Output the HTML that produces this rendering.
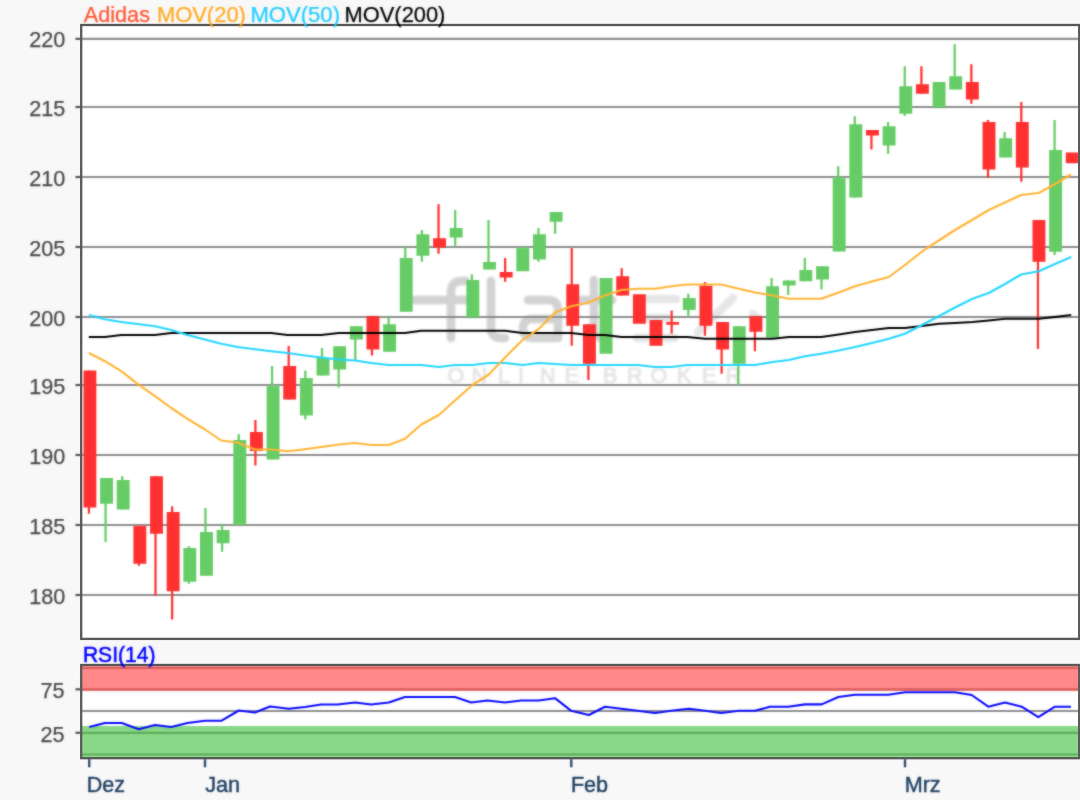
<!DOCTYPE html>
<html><head><meta charset="utf-8"><title>Adidas Chart</title>
<style>
html,body{margin:0;padding:0;background:#f8f8f8;}
body{width:1080px;height:800px;overflow:hidden;font-family:"Liberation Sans",sans-serif;}
svg{display:block;}
text{font-family:"Liberation Sans",sans-serif;font-size:21.6px;}
.t text{stroke-width:0.25px;paint-order:stroke;}
</style></head><body>
<svg width="1080" height="800" viewBox="0 0 1080 800">
<defs>
<filter id="b" x="-2%" y="-2%" width="104%" height="104%" color-interpolation-filters="sRGB"><feGaussianBlur stdDeviation="0.9"/></filter>
<filter id="s" x="-2%" y="-2%" width="104%" height="104%" color-interpolation-filters="sRGB"><feGaussianBlur stdDeviation="0.9" result="g"/><feComposite in="SourceGraphic" in2="g" operator="arithmetic" k1="0" k2="0.55" k3="0.45" k4="0"/></filter>
<filter id="bt" x="-2%" y="-2%" width="104%" height="104%" color-interpolation-filters="sRGB"><feGaussianBlur stdDeviation="0.9" result="g"/><feComposite in="SourceGraphic" in2="g" operator="arithmetic" k1="0" k2="0.5" k3="0.5" k4="0"/></filter>
<clipPath id="cp"><rect x="81.2" y="25" width="998" height="613.8"/></clipPath>
</defs>
<rect x="0" y="0" width="1080" height="800" fill="#f8f8f8"/>
<g filter="url(#b)">
<!-- main plot -->
<rect x="81.2" y="25" width="998" height="613.8" fill="#ffffff"/>

<g id="wm" clip-path="url(#cp)">
<g fill="none" stroke="#d2d2d2" stroke-width="8.5" stroke-linecap="round" stroke-linejoin="round">
<path d="M414,300 H470"/>
<path d="M451,338 V292 Q451,281 462,281 H466"/>
<path d="M491,281 V328 Q491,338 501,338 H505"/>
<path d="M528,300 H548 Q558,300 558,310 V338 H533 Q523,338 523,328 Q523,319 533,319 H556"/>
<path d="M594,280 V328 Q594,338 603,338"/>
<path d="M580,300 H612"/>
</g>
<g fill="none" stroke="#e6e6e6" stroke-width="8.5" stroke-linecap="round">
<path d="M648,299 H676"/><path d="M644,318 H668"/><path d="M637,338 H674"/>
<path d="M698,332 L733,298"/><path d="M753,314 L757,318"/>
</g>
<text font-size="15.8" fill="#e2e2e2" stroke="#e2e2e2" stroke-width="0.6" y="383.2" x="447.5 471.5 498 518 540 564.5 603 627 650.5 677 702 725.5">ONLINEBROKER</text>
</g>

</g><g filter="url(#s)">
<g stroke="#8e8e8e" stroke-width="2.2">
<line x1="81" y1="38.85" x2="1079" y2="38.85"/>
<line x1="81" y1="107" x2="1079" y2="107"/>
<line x1="81" y1="177" x2="1079" y2="177"/>
<line x1="81" y1="247" x2="1079" y2="247"/>
<line x1="81" y1="317" x2="1079" y2="317"/>
<line x1="81" y1="385" x2="1079" y2="385"/>
<line x1="81" y1="455" x2="1079" y2="455"/>
<line x1="81" y1="525" x2="1079" y2="525"/>
<line x1="81" y1="595" x2="1079" y2="595"/>
</g>
<g stroke="#555555" stroke-width="2.2">
<line x1="75.5" y1="38.85" x2="81" y2="38.85"/>
<line x1="75.5" y1="107" x2="81" y2="107"/>
<line x1="75.5" y1="177" x2="81" y2="177"/>
<line x1="75.5" y1="247" x2="81" y2="247"/>
<line x1="75.5" y1="317" x2="81" y2="317"/>
<line x1="75.5" y1="385" x2="81" y2="385"/>
<line x1="75.5" y1="455" x2="81" y2="455"/>
<line x1="75.5" y1="525" x2="81" y2="525"/>
<line x1="75.5" y1="595" x2="81" y2="595"/>
</g>
</g><g filter="url(#s)">
<g clip-path="url(#cp)">
<rect x="87.78" y="370.5" width="2.25" height="143.25" fill="#ff3030"/>
<rect x="83.45" y="370.5" width="12.9" height="137.00" fill="#ff3030"/>
<rect x="104.43" y="478" width="2.25" height="64.00" fill="#66cc66"/>
<rect x="100.10" y="478" width="12.9" height="25.75" fill="#66cc66"/>
<rect x="121.08" y="476.25" width="2.25" height="33.25" fill="#66cc66"/>
<rect x="116.75" y="480" width="12.9" height="29.50" fill="#66cc66"/>
<rect x="137.72" y="525.75" width="2.25" height="40.00" fill="#ff3030"/>
<rect x="133.40" y="525.75" width="12.9" height="38.00" fill="#ff3030"/>
<rect x="154.38" y="476.25" width="2.25" height="119.25" fill="#ff3030"/>
<rect x="150.05" y="476.25" width="12.9" height="57.50" fill="#ff3030"/>
<rect x="171.03" y="506.25" width="2.25" height="113.25" fill="#ff3030"/>
<rect x="166.70" y="512" width="12.9" height="79.25" fill="#ff3030"/>
<rect x="187.68" y="546.25" width="2.25" height="37.50" fill="#66cc66"/>
<rect x="183.35" y="548" width="12.9" height="33.75" fill="#66cc66"/>
<rect x="204.32" y="508" width="2.25" height="67.75" fill="#66cc66"/>
<rect x="200.00" y="532" width="12.9" height="43.75" fill="#66cc66"/>
<rect x="220.97" y="524.5" width="2.25" height="27.25" fill="#66cc66"/>
<rect x="216.65" y="530" width="12.9" height="13.25" fill="#66cc66"/>
<rect x="237.62" y="434" width="2.25" height="91.00" fill="#66cc66"/>
<rect x="233.30" y="440" width="12.9" height="85.00" fill="#66cc66"/>
<rect x="254.28" y="420" width="2.25" height="45.50" fill="#ff3030"/>
<rect x="249.95" y="432" width="12.9" height="19.00" fill="#ff3030"/>
<rect x="270.92" y="366" width="2.25" height="93.50" fill="#66cc66"/>
<rect x="266.60" y="385.75" width="12.9" height="73.75" fill="#66cc66"/>
<rect x="287.57" y="346" width="2.25" height="53.50" fill="#ff3030"/>
<rect x="283.25" y="366" width="12.9" height="33.50" fill="#ff3030"/>
<rect x="304.23" y="370.5" width="2.25" height="49.00" fill="#66cc66"/>
<rect x="299.90" y="378" width="12.9" height="37.50" fill="#66cc66"/>
<rect x="320.88" y="348" width="2.25" height="27.50" fill="#66cc66"/>
<rect x="316.55" y="358" width="12.9" height="17.50" fill="#66cc66"/>
<rect x="337.52" y="346.25" width="2.25" height="41.25" fill="#66cc66"/>
<rect x="333.20" y="346.25" width="12.9" height="23.25" fill="#66cc66"/>
<rect x="354.17" y="326.25" width="2.25" height="34.25" fill="#66cc66"/>
<rect x="349.85" y="326.25" width="12.9" height="13.25" fill="#66cc66"/>
<rect x="370.82" y="316.25" width="2.25" height="39.25" fill="#ff3030"/>
<rect x="366.50" y="316.25" width="12.9" height="33.25" fill="#ff3030"/>
<rect x="387.48" y="316.25" width="2.25" height="35.50" fill="#66cc66"/>
<rect x="383.15" y="324.25" width="12.9" height="27.50" fill="#66cc66"/>
<rect x="404.12" y="246.25" width="2.25" height="65.50" fill="#66cc66"/>
<rect x="399.80" y="258" width="12.9" height="53.75" fill="#66cc66"/>
<rect x="420.77" y="230" width="2.25" height="31.75" fill="#66cc66"/>
<rect x="416.45" y="234.25" width="12.9" height="21.50" fill="#66cc66"/>
<rect x="437.42" y="204.25" width="2.25" height="49.50" fill="#ff3030"/>
<rect x="433.10" y="238.25" width="12.9" height="9.25" fill="#ff3030"/>
<rect x="454.07" y="210" width="2.25" height="36.25" fill="#66cc66"/>
<rect x="449.75" y="228" width="12.9" height="9.50" fill="#66cc66"/>
<rect x="470.73" y="274.25" width="2.25" height="43.25" fill="#66cc66"/>
<rect x="466.40" y="280" width="12.9" height="37.50" fill="#66cc66"/>
<rect x="487.38" y="220" width="2.25" height="49.50" fill="#66cc66"/>
<rect x="483.05" y="262" width="12.9" height="7.50" fill="#66cc66"/>
<rect x="504.02" y="258" width="2.25" height="23.75" fill="#ff3030"/>
<rect x="499.70" y="272" width="12.9" height="5.50" fill="#ff3030"/>
<rect x="516.35" y="247.5" width="12.9" height="23.75" fill="#66cc66"/>
<rect x="537.32" y="228" width="2.25" height="33.75" fill="#66cc66"/>
<rect x="533.00" y="234.25" width="12.9" height="25.25" fill="#66cc66"/>
<rect x="553.97" y="212" width="2.25" height="21.75" fill="#66cc66"/>
<rect x="549.65" y="212" width="12.9" height="9.75" fill="#66cc66"/>
<rect x="570.62" y="248" width="2.25" height="97.75" fill="#ff3030"/>
<rect x="566.30" y="284.25" width="12.9" height="41.50" fill="#ff3030"/>
<rect x="587.27" y="324.25" width="2.25" height="55.75" fill="#ff3030"/>
<rect x="582.95" y="324.25" width="12.9" height="39.50" fill="#ff3030"/>
<rect x="599.60" y="278" width="12.9" height="75.75" fill="#66cc66"/>
<rect x="620.57" y="268.25" width="2.25" height="27.25" fill="#ff3030"/>
<rect x="616.25" y="276.25" width="12.9" height="19.25" fill="#ff3030"/>
<rect x="632.90" y="294.25" width="12.9" height="29.50" fill="#ff3030"/>
<rect x="649.55" y="320" width="12.9" height="25.75" fill="#ff3030"/>
<rect x="670.52" y="310.5" width="2.25" height="23.25" fill="#ff3030"/>
<rect x="666.20" y="322.0" width="12.9" height="2.70" fill="#ff3030"/>
<rect x="687.17" y="293.75" width="2.25" height="22.50" fill="#66cc66"/>
<rect x="682.85" y="298" width="12.9" height="12.00" fill="#66cc66"/>
<rect x="703.82" y="282" width="2.25" height="53.75" fill="#ff3030"/>
<rect x="699.50" y="285.75" width="12.9" height="40.00" fill="#ff3030"/>
<rect x="720.47" y="322" width="2.25" height="51.75" fill="#ff3030"/>
<rect x="716.15" y="322" width="12.9" height="27.50" fill="#ff3030"/>
<rect x="737.12" y="326.25" width="2.25" height="58.75" fill="#66cc66"/>
<rect x="732.80" y="326.25" width="12.9" height="37.50" fill="#66cc66"/>
<rect x="753.77" y="316.25" width="2.25" height="35.00" fill="#ff3030"/>
<rect x="749.45" y="316.25" width="12.9" height="15.50" fill="#ff3030"/>
<rect x="770.42" y="278" width="2.25" height="59.50" fill="#66cc66"/>
<rect x="766.10" y="286.25" width="12.9" height="51.25" fill="#66cc66"/>
<rect x="787.07" y="280.5" width="2.25" height="14.50" fill="#66cc66"/>
<rect x="782.75" y="280.5" width="12.9" height="5.00" fill="#66cc66"/>
<rect x="803.72" y="258" width="2.25" height="23.25" fill="#66cc66"/>
<rect x="799.40" y="270" width="12.9" height="11.25" fill="#66cc66"/>
<rect x="820.37" y="266.25" width="2.25" height="23.25" fill="#66cc66"/>
<rect x="816.05" y="266.25" width="12.9" height="13.25" fill="#66cc66"/>
<rect x="837.02" y="166.25" width="2.25" height="85.25" fill="#66cc66"/>
<rect x="832.70" y="177.5" width="12.9" height="74.00" fill="#66cc66"/>
<rect x="853.67" y="116.25" width="2.25" height="81.25" fill="#66cc66"/>
<rect x="849.35" y="124.25" width="12.9" height="73.25" fill="#66cc66"/>
<rect x="870.32" y="130" width="2.25" height="19.50" fill="#ff3030"/>
<rect x="866.00" y="130" width="12.9" height="5.50" fill="#ff3030"/>
<rect x="886.97" y="122" width="2.25" height="31.75" fill="#66cc66"/>
<rect x="882.65" y="126.25" width="12.9" height="19.25" fill="#66cc66"/>
<rect x="903.62" y="66.25" width="2.25" height="49.50" fill="#66cc66"/>
<rect x="899.30" y="86.25" width="12.9" height="27.50" fill="#66cc66"/>
<rect x="920.27" y="66.25" width="2.25" height="27.50" fill="#ff3030"/>
<rect x="915.95" y="84.25" width="12.9" height="9.50" fill="#ff3030"/>
<rect x="932.60" y="82" width="12.9" height="25.50" fill="#66cc66"/>
<rect x="953.57" y="44.25" width="2.25" height="45.25" fill="#66cc66"/>
<rect x="949.25" y="76.25" width="12.9" height="13.25" fill="#66cc66"/>
<rect x="970.22" y="64.25" width="2.25" height="39.50" fill="#ff3030"/>
<rect x="965.90" y="82" width="12.9" height="17.50" fill="#ff3030"/>
<rect x="986.87" y="120" width="2.25" height="57.50" fill="#ff3030"/>
<rect x="982.55" y="122" width="12.9" height="47.50" fill="#ff3030"/>
<rect x="1003.52" y="132" width="2.25" height="25.50" fill="#66cc66"/>
<rect x="999.20" y="138.25" width="12.9" height="19.25" fill="#66cc66"/>
<rect x="1020.17" y="102" width="2.25" height="79.75" fill="#ff3030"/>
<rect x="1015.85" y="122" width="12.9" height="45.50" fill="#ff3030"/>
<rect x="1036.83" y="220" width="2.25" height="129.00" fill="#ff3030"/>
<rect x="1032.50" y="220" width="12.9" height="41.75" fill="#ff3030"/>
<rect x="1053.47" y="120" width="2.25" height="135.00" fill="#66cc66"/>
<rect x="1049.15" y="150" width="12.9" height="101.75" fill="#66cc66"/>
<rect x="1065.80" y="152.5" width="12.9" height="10.75" fill="#ff3030"/>
</g>
<polyline points="88.8,337.0 105.0,337.0 121.2,335.0 155.0,335.0 171.2,333.0 271.2,333.0 287.5,335.0 321.2,335.0 338.8,333.0 405.0,333.0 421.2,330.8 505.0,330.8 522.5,333.0 571.2,333.0 588.8,335.0 605.0,335.0 621.2,337.0 687.5,337.0 705.0,338.8 772.5,338.8 788.8,337.0 821.2,337.0 838.8,334.5 855.0,332.0 872.0,330.0 888.8,328.0 905.0,328.0 922.0,326.0 938.8,323.8 955.0,323.0 972.5,322.0 988.8,320.5 1005.0,318.8 1038.8,318.8 1055.0,317.0 1071.2,315.0" fill="none" stroke="#000000" stroke-width="2.1" stroke-linejoin="round"/>
<polyline points="88.8,315.0 105.0,319.2 121.2,322.0 137.5,324.0 155.0,326.2 171.2,330.0 187.5,335.0 205.0,339.5 221.2,343.8 237.5,347.0 255.0,349.2 271.2,351.2 287.5,353.0 305.0,355.5 321.2,357.5 338.8,359.5 355.0,360.5 371.2,363.0 388.8,365.0 405.0,365.0 421.2,365.0 438.8,367.0 455.0,365.0 472.5,365.0 488.8,363.0 505.0,363.0 522.5,365.0 538.8,363.0 555.0,364.0 571.2,365.0 588.8,365.0 605.0,365.0 621.2,365.0 637.5,365.0 655.0,367.0 671.2,367.0 687.5,365.0 705.0,365.0 721.2,365.0 738.8,365.0 755.0,365.0 772.5,362.0 788.8,360.0 805.0,356.2 821.2,353.8 838.8,350.5 855.0,347.0 872.0,343.0 888.8,338.8 905.0,333.8 922.0,325.0 938.8,316.2 955.0,307.5 972.5,298.8 988.8,293.0 1005.0,284.0 1021.2,274.5 1038.8,271.2 1055.0,264.0 1071.2,257.0" fill="none" stroke="#22d6ff" stroke-width="2.1" stroke-linejoin="round"/>
<polyline points="88.8,353.0 105.0,361.2 121.2,371.2 137.5,383.8 155.0,396.2 171.2,408.0 187.5,418.8 205.0,429.5 221.2,440.5 237.5,442.5 255.0,449.5 271.2,449.5 287.5,451.2 305.0,449.2 321.2,447.0 338.8,444.5 355.0,443.0 371.2,445.0 388.8,445.0 405.0,438.8 421.2,424.5 438.8,415.0 455.0,400.5 472.5,385.0 488.8,374.5 505.0,357.5 522.5,340.0 538.8,328.8 555.0,312.5 571.2,306.2 588.8,302.5 605.0,295.5 621.2,290.0 637.5,288.8 655.0,288.8 671.2,286.2 687.5,284.5 705.0,284.5 721.2,284.5 738.8,288.8 755.0,292.5 772.5,295.5 788.8,298.8 805.0,298.8 821.2,298.8 838.8,292.5 855.0,286.2 872.0,281.5 888.8,277.0 905.0,265.0 922.5,251.2 938.8,240.5 955.0,230.0 972.0,220.0 988.8,210.0 1005.0,202.5 1021.0,195.0 1038.8,193.0 1055.0,184.0 1071.0,174.5" fill="none" stroke="#ffb433" stroke-width="2.1" stroke-linejoin="round"/>
</g><g filter="url(#s)">
</g><g><rect x="81.2" y="25" width="998" height="613.9" fill="none" stroke="#595959" stroke-width="2.3"/></g><g filter="url(#s)">
<!-- RSI -->
<rect x="81.2" y="665" width="998" height="93" fill="#ffffff"/>
<line x1="81" y1="711" x2="1079" y2="711" stroke="#8e8e8e" stroke-width="2.2"/>
<rect x="81.2" y="665" width="998" height="26" fill="#ff8888"/>
<line x1="81" y1="668" x2="1079" y2="668" stroke="#d85c5c" stroke-width="2"/>
<line x1="81" y1="689.3" x2="1079" y2="689.3" stroke="#d85c5c" stroke-width="2.2"/>
<rect x="81.2" y="726" width="998" height="32" fill="#88d888"/>
<line x1="81" y1="732.8" x2="1079" y2="732.8" stroke="#5cac5c" stroke-width="2.2"/>
<line x1="81" y1="754.5" x2="1079" y2="754.5" stroke="#5cac5c" stroke-width="2"/>
<line x1="75.5" y1="689.3" x2="81" y2="689.3" stroke="#555555" stroke-width="2.2"/>
<line x1="75.5" y1="732.8" x2="81" y2="732.8" stroke="#555555" stroke-width="2.2"/>

<polyline points="89.2,727.0 105.0,723.0 121.8,723.0 138.8,729.2 155.0,725.0 171.2,727.0 187.5,723.0 205.0,720.8 221.2,720.8 238.8,710.5 255.0,712.5 270.0,706.5 288.8,708.8 305.0,707.0 321.2,704.5 337.5,704.5 355.0,702.5 371.2,704.5 388.8,702.5 405.0,697.0 455.0,697.0 471.2,702.5 487.5,700.5 505.0,702.5 521.2,700.5 538.8,700.5 555.0,698.2 571.2,710.8 588.8,715.0 605.0,706.8 621.2,708.8 637.5,710.8 655.0,713.0 671.2,710.8 688.8,708.8 705.0,710.8 721.2,713.0 738.8,710.8 755.0,710.8 770.0,706.8 788.3,706.7 805.0,704.4 821.7,704.4 838.3,697.0 855.0,694.7 888.3,694.7 905.0,692.2 955.0,692.2 971.7,695.0 988.3,706.7 1005.0,702.5 1021.7,706.7 1038.3,717.2 1055.0,706.7 1071.0,706.7" fill="none" stroke="#0808ff" stroke-width="2.1" stroke-linejoin="round"/>
</g><g><rect x="81.2" y="665" width="998" height="93.2" fill="none" stroke="#595959" stroke-width="2.3"/></g><g filter="url(#s)">
<g stroke="#2f4f6f" stroke-width="2.4">
<line x1="89.25" y1="759" x2="89.25" y2="767.3"/>
<line x1="205" y1="759" x2="205" y2="767.3"/>
<line x1="571.25" y1="759" x2="571.25" y2="767.3"/>
<line x1="905" y1="759" x2="905" y2="767.3"/>
</g>
</g>
<g filter="url(#bt)" class="t">
<text x="83.75" y="22" fill="#ff5533" stroke="#ff5533" textLength="66.25" lengthAdjust="spacingAndGlyphs">Adidas</text>
<text x="156.9" y="22" fill="#ffaa22" stroke="#ffaa22" textLength="89" lengthAdjust="spacingAndGlyphs">MOV(20)</text>
<text x="250.4" y="22" fill="#22ccff" stroke="#22ccff" textLength="89.6" lengthAdjust="spacingAndGlyphs">MOV(50)</text>
<text x="344.6" y="22" fill="#000000" stroke="#000000" textLength="100.8" lengthAdjust="spacingAndGlyphs">MOV(200)</text>
<text x="65.3" y="47.45" fill="#484848" stroke="#484848" text-anchor="end">220</text>
<text x="65.3" y="115.60" fill="#484848" stroke="#484848" text-anchor="end">215</text>
<text x="65.3" y="185.60" fill="#484848" stroke="#484848" text-anchor="end">210</text>
<text x="65.3" y="255.60" fill="#484848" stroke="#484848" text-anchor="end">205</text>
<text x="65.3" y="325.60" fill="#484848" stroke="#484848" text-anchor="end">200</text>
<text x="65.3" y="393.60" fill="#484848" stroke="#484848" text-anchor="end">195</text>
<text x="65.3" y="463.60" fill="#484848" stroke="#484848" text-anchor="end">190</text>
<text x="65.3" y="533.60" fill="#484848" stroke="#484848" text-anchor="end">185</text>
<text x="65.3" y="603.60" fill="#484848" stroke="#484848" text-anchor="end">180</text>
<text x="64.6" y="697.5" fill="#484848" stroke="#484848" text-anchor="end">75</text>
<text x="64.6" y="742" fill="#484848" stroke="#484848" text-anchor="end">25</text>
<text x="82.9" y="661.9" fill="#0000ff" stroke="#0000ff" textLength="72.6" lengthAdjust="spacingAndGlyphs" style="stroke-width:0.55px;font-size:22.2px">RSI(14)</text>
<text x="86.7" y="791.7" fill="#1f4062" stroke="#1f4062" style="stroke-width:0.45px">Dez</text>
<text x="205.2" y="791.7" fill="#1f4062" stroke="#1f4062" style="stroke-width:0.45px">Jan</text>
<text x="570.9" y="791.7" fill="#1f4062" stroke="#1f4062" style="stroke-width:0.45px">Feb</text>
<text x="904.7" y="791.7" fill="#1f4062" stroke="#1f4062" style="stroke-width:0.45px">Mrz</text>
</g>
</svg></body></html>
